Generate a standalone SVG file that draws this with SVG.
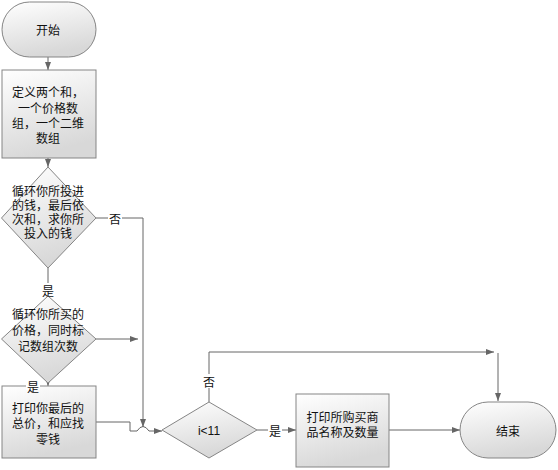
<svg xmlns="http://www.w3.org/2000/svg" width="558" height="470" viewBox="0 0 558 470">
<defs>
<linearGradient id="g" x1="0" y1="0" x2="0.3" y2="1">
<stop offset="0" stop-color="#ffffff"/>
<stop offset="1" stop-color="#d8d8d8"/>
</linearGradient>
<marker id="a" markerWidth="8" markerHeight="6" refX="8" refY="3" orient="auto" markerUnits="userSpaceOnUse">
<path d="M0,0 L8,3 L0,6 Z" fill="#666"/>
</marker>
<marker id="s" markerWidth="8" markerHeight="6" refX="0" refY="3" orient="auto" markerUnits="userSpaceOnUse">
<path d="M8,0 L0,3 L8,6 Z" fill="#666"/>
</marker>
<style>
.n{fill:url(#g);stroke:#858585;stroke-width:1}
.t{font-family:"Liberation Sans","Noto Sans CJK SC",sans-serif;font-size:12px;fill:#111;text-anchor:middle;dominant-baseline:central}
.c{fill:none;stroke:#666;stroke-width:1}
.lb{fill:#fff}
</style>
</defs>
<rect width="558" height="470" fill="#fff"/>
<g id="connectors">
<path class="c" d="M48,57 V70" marker-end="url(#a)"/>
<path class="c" d="M48,158 V167" marker-end="url(#a)"/>
<path class="c" d="M48,268 V296" marker-end="url(#a)"/>
<path class="c" d="M96,218 H143 V427" marker-end="url(#a)"/>
<path class="c" d="M96,339 H138" marker-end="url(#a)"/>
<path class="c" d="M48,383 V386" marker-end="url(#a)"/>
<path class="c" d="M57,422 H130 V431 H137 Q143,422 149,431 H162" marker-start="url(#s)" marker-end="url(#a)"/>
<path class="c" d="M209,402 V352 H494" marker-end="url(#a)"/>
<path class="c" d="M498,353 V401" marker-end="url(#a)"/>
<path class="c" d="M257,430 H296" marker-end="url(#a)"/>
<path class="c" d="M389,430 H460" marker-end="url(#a)"/>
</g>
<g id="start">
<rect class="n" x="2" y="2" width="94" height="55" rx="27.5"/>
<text class="t" x="48" y="30.5">开始</text>
</g>
<g id="define">
<rect class="n" x="2" y="70" width="94" height="88"/>
<text class="t"><tspan x="48" y="92.5">定义两个和，</tspan><tspan x="48" y="108.5">一个价格数</tspan><tspan x="48" y="123.5">组，一个二维</tspan><tspan x="48" y="138.5">数组</tspan></text>
</g>
<g id="loop1">
<polygon class="n" points="48,167 96,218 48,268 1.5,218"/>
<text class="t"><tspan x="48" y="192">循环你所投进</tspan><tspan x="48" y="206">的钱，最后依</tspan><tspan x="48" y="220">次和，求你所</tspan><tspan x="48" y="234">投入的钱</tspan></text>
</g>
<g id="loop2">
<polygon class="n" points="48,296 96,339 48,383 1.5,339"/>
<text class="t"><tspan x="48" y="314.5">循环你所买的</tspan><tspan x="48" y="330.5">价格，同时标</tspan><tspan x="48" y="346.5">记数组次数</tspan></text>
</g>
<g id="printTotal">
<rect class="n" x="2" y="386" width="94" height="72"/>
<text class="t"><tspan x="48" y="408.5">打印你最后的</tspan><tspan x="48" y="423.5">总价，和应找</tspan><tspan x="48" y="439.5">零钱</tspan></text>
</g>
<g id="cond">
<polygon class="n" points="209,402 257,430 209,458 162,430"/>
<text class="t" x="209" y="431">i&lt;11</text>
</g>
<g id="printGoods">
<rect class="n" x="296" y="394" width="93" height="73"/>
<text class="t"><tspan x="342.5" y="417.5">打印所购买商</tspan><tspan x="342.5" y="432.5">品名称及数量</tspan></text>
</g>
<g id="end">
<rect class="n" x="460" y="402" width="96" height="56" rx="28"/>
<text class="t" x="508" y="431.5">结束</text>
</g>
<g id="labels">
<rect class="lb" x="108" y="211" width="14" height="14"/>
<text class="t" x="115" y="219.5">否</text>
<rect class="lb" x="41" y="283" width="14" height="14"/>
<text class="t" x="48" y="291.5">是</text>
<rect class="lb" x="26" y="380" width="14" height="10"/>
<text class="t" x="33" y="387.5">是</text>
<rect class="lb" x="202" y="374" width="14" height="14"/>
<text class="t" x="209" y="382.5">否</text>
<rect class="lb" x="268" y="423" width="14" height="14"/>
<text class="t" x="275" y="431.5">是</text>
</g>
</svg>
